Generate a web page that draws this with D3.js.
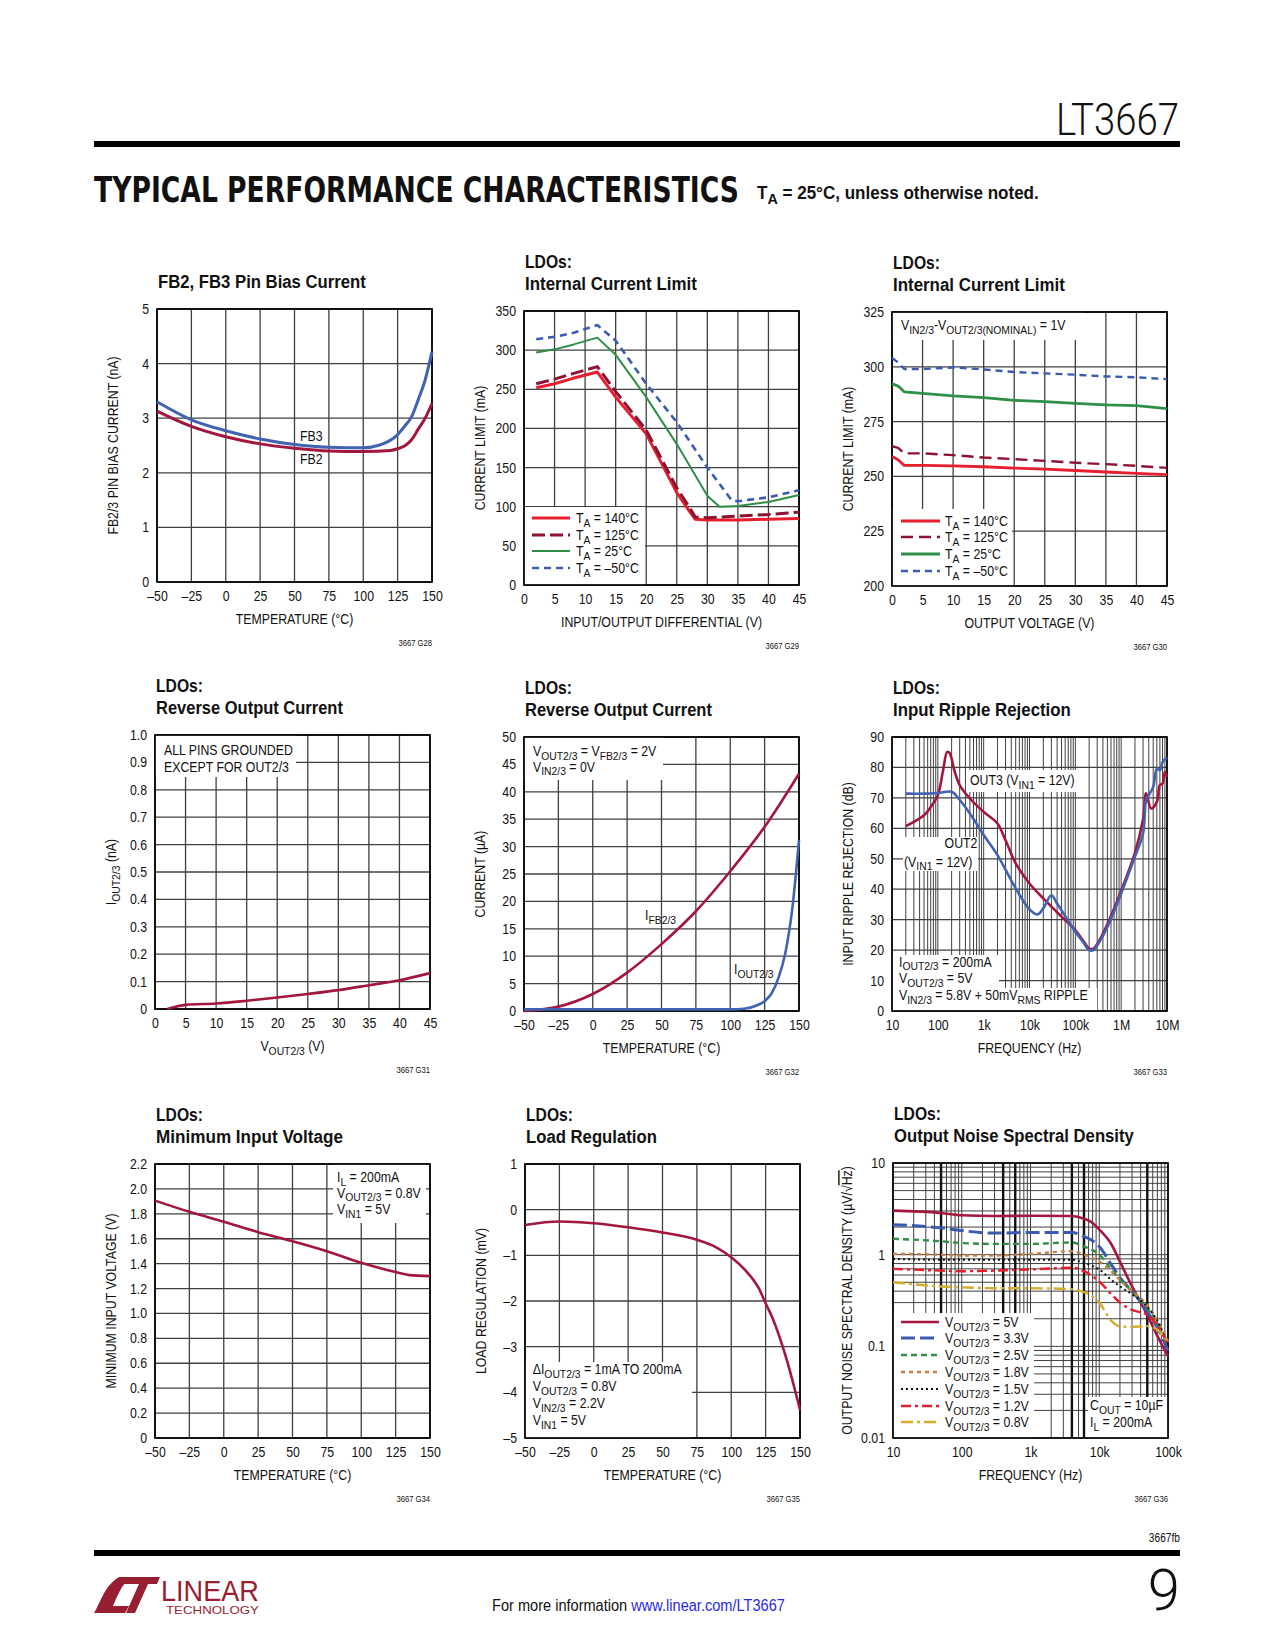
<!DOCTYPE html>
<html><head><meta charset="utf-8">
<script src="https://cdn.jsdelivr.net/npm/d3@7"></script>
<style>body{margin:0;background:#fff}svg{display:block}</style>
</head><body>
<svg id="page" width="1275" height="1650"></svg>
<script>
// ---------------- DATA ----------------
// tick label arrays
const tempTicks = [-50,-25,0,25,50,75,100,125,150];
const voltTicks = [0,5,10,15,20,25,30,35,40,45];
const biasTicks = [0,1,2,3,4,5];
const climTicks = [0,50,100,150,200,250,300,350];
const clim2Ticks = [200,225,250,275,300,325];
const revTicks = [0,0.1,0.2,0.3,0.4,0.5,0.6,0.7,0.8,0.9,1.0];
const revUaTicks = [0,5,10,15,20,25,30,35,40,45,50];
const prrFreqTicks = [10,100,1e3,1e4,1e5,1e6,1e7];
const prrFreqLabels = ["10","100","1k","10k","100k","1M","10M"];
const prrTicks = [0,10,20,30,40,50,60,70,80,90];
const vminTicks = [0,0.2,0.4,0.6,0.8,1.0,1.2,1.4,1.6,1.8,2.0,2.2];
const loadTicks = [-5,-4,-3,-2,-1,0,1];
const noiseFreqTicks = [10,100,1e3,1e4,1e5];
const noiseFreqLabels = ["10","100","1k","10k","100k"];
const noiseTicks = [0.01,0.1,1,10];
const noiseTickLabels = ["0.01","0.1","1","10"];

// G28: FB2/FB3 pin bias current (nA) vs temperature
const fb3Temp = [-50,-25,0,25,50,75,100,112,125,130,135,140,145,150];
const fb3Bias = [3.30,2.97,2.77,2.62,2.52,2.47,2.46,2.51,2.70,2.85,3.02,3.34,3.70,4.22];
const fb2Temp = [-50,-25,0,25,50,75,100,120,125,130,135,140,145,150];
const fb2Bias = [3.13,2.85,2.66,2.53,2.45,2.40,2.39,2.41,2.44,2.49,2.60,2.80,3.00,3.27];

// G29: current limit (mA) vs input/output differential (V)
const diffA = [2,5,8,12,15,20,25,27,28,30,35,40,45];
const lim140 = [252,257,264,272,240,193,118,95,84,83,83,84,85];
const lim125 = [257,263,270,279,247,198,124,100,87,86,88,90,93];
const diffB = [2,5,8,12,15,20,25,30,32,35,40,45];
const lim25 = [297,301,307,316,294,240,180,114,100,101,106,115];
const diffC = [2,5,8,12,15,20,25,30,34,35,40,45];
const limM50 = [314,317,322,332,312,257,208,150,108,107,112,121];

// G30: current limit (mA) vs output voltage (V)
const vout = [0,1,2,5,10,15,20,25,30,35,40,45];
const lim2M50 = [304,302,299,299,299.7,298.8,297.6,297,296.4,295.6,295.2,294.4];
const lim225 = [292.3,291.2,288.6,287.9,286.7,285.9,284.7,284.1,283.3,282.6,282.3,280.9];
const lim2125 = [263.8,263,260.5,260.5,259.7,258.6,257.9,257.1,256.2,255.6,254.8,253.9];
const lim2140 = [259.1,257.6,255,255,254.8,254.4,253.8,253.3,252.7,252,251.4,250.8];

// G31: reverse output current (nA) vs VOUT
const revV = [2,3,5,10,15,20,25,30,35,40,45];
const revI = [0,0.006,0.015,0.02,0.03,0.042,0.055,0.069,0.087,0.105,0.131];

// G32: reverse current (uA) vs temperature
const ifbTemp = [-50,-40,-25,0,25,50,75,100,125,150];
const ifbCur = [0,0.2,0.8,3.1,7.0,12.2,18.2,25.5,33.6,43.3];
const ioutTemp = [-50,0,50,100,110,120,125,130,135,140,143,145,148,150];
const ioutCur = [0.3,0.3,0.3,0.3,0.4,1.1,1.8,3.2,6.0,10.5,14.8,18.4,25.7,31.2];

// G33: input ripple rejection (dB) vs frequency
const out3Freq = [20,50,70,100,130,160,180,230,300,500,1e3,2e3,3e3,5e3,1e4,2e4,5e4,1e5,1.5e5,2e5,2.5e5,3e5,5e5,1e6,2e6,3e6,3.5e6,4.5e6,6e6,7e6,8e6,9e6,1e7];
const out3Rej = [60.7,64.3,67,70.9,79,85.1,84.8,79,74.2,69.8,65.4,61.6,56.1,48.5,41.9,37,31,26.6,23,20.5,20.5,22,28.5,39.5,52,63,71.5,66.5,68.7,74.2,74.7,78.6,76.9];
const out2Freq = [20,50,100,200,300,500,1e3,2e3,5e3,1e4,1.5e4,2e4,3e4,4e4,7e4,1e5,1.5e5,2e5,2.5e5,3e5,5e5,1e6,2e6,3e6,3.5e6,4e6,5e6,6e6,7e6,8e6,1e7];
const out2Rej = [71.4,71.4,71.6,72,69.3,64.9,57.8,51.2,40.3,33.4,31.7,33.7,38,35.3,29.6,26,22.5,20,20,21.5,27.5,38.6,50.7,58.3,69.3,70.9,73.6,79.6,79.1,81.8,83.3];

// G34: minimum input voltage (V) vs temperature
const vminTemp = [-50,-25,0,25,50,75,100,125,135,150];
const vminVal = [1.906,1.816,1.736,1.653,1.58,1.50,1.407,1.332,1.308,1.30];

// G35: load regulation (mV) vs temperature
const loadTemp = [-50,-25,0,25,50,75,90,100,110,120,125,130,140,150];
const loadReg = [-0.334,-0.26,-0.297,-0.385,-0.5,-0.66,-0.84,-1.04,-1.32,-1.72,-2.05,-2.37,-3.25,-4.38];

// G36: output noise spectral density (uV/rtHz) vs frequency
const noiseFreq = [10,50,100,300,1000,4000,6000,8000,10000,15000,20000,30000,50000,70000,100000];
const noise5V0 = [3.02,2.85,2.69,2.64,2.66,2.64,2.47,2.22,1.88,1.30,0.84,0.45,0.22,0.13,0.078];
const noise3V3 = [2.12,1.96,1.83,1.72,1.75,1.75,1.58,1.42,1.23,0.78,0.56,0.40,0.24,0.16,0.09];
const noise2V5 = [1.49,1.40,1.34,1.31,1.31,1.36,1.23,1.12,1.0,0.69,0.53,0.40,0.26,0.18,0.11];
const noise1V8 = [1.02,1.0,0.98,0.98,1.02,1.09,1.0,0.92,0.84,0.66,0.53,0.40,0.28,0.19,0.114];
const noise1V5 = [0.90,0.88,0.88,0.88,0.88,0.88,0.81,0.75,0.69,0.53,0.45,0.37,0.27,0.19,0.104];
const noise1V2 = [0.70,0.67,0.66,0.67,0.69,0.72,0.66,0.58,0.51,0.37,0.30,0.25,0.22,0.17,0.104];
const noise0V8 = [0.50,0.45,0.44,0.43,0.43,0.42,0.39,0.35,0.30,0.19,0.165,0.163,0.166,0.152,0.11];
const noiseBoldGrid = [50,400,600,4000,6000,50000];

// ---------------- DRAWING ----------------
const NARROW = "'Liberation Sans',Arial,Helvetica,sans-serif";
const W = 275;
const MAROON = "#a3173e", BLUE = "#4262b2", RED = "#e61e2d", GREEN = "#2f8f46",
      ORANGE = "#c8803c", GOLD = "#d2ad2f", GRID = "#404040";
const svg = d3.select("#page").attr("font-family", NARROW);

function rich(sel, str, fs) {
  const parts = str.split(/(_\{[^}]*\}|~\{[^}]*\})/);
  let shifted = false;
  parts.forEach(p => {
    if (!p) return;
    let t;
    if (p.startsWith("_{")) {
      sel.append("tspan").attr("dy", shifted ? 0 : fs * 0.28).attr("font-size", fs * 0.84).text(p.slice(2, -1));
      shifted = true; return;
    }
    if (p.startsWith("~{")) {
      t = sel.append("tspan").attr("text-decoration", "overline").text(p.slice(2, -1));
    } else {
      t = sel.append("tspan").text(p);
    }
    if (shifted) { t.attr("dy", -fs * 0.28); shifted = false; }
  });
  return sel;
}
// text placed with a transform; horizontal scale mimics a condensed face
function txt(g, x, y, str, fs, opts = {}) {
  const t = g.append("text").attr("font-size", fs)
    .attr("fill", opts.fill || "#111").attr("font-family", opts.family || NARROW);
  if (opts.anchor) t.attr("text-anchor", opts.anchor);
  if (opts.weight) t.attr("font-weight", opts.weight);
  rich(t, str, fs);
  let f = 1;
  if (opts.len) f = opts.len / t.node().getComputedTextLength();
  else if (opts.cond) f = opts.cond;
  t.attr("transform", `translate(${x},${y})${opts.rot ? ` rotate(${opts.rot})` : ""} scale(${f.toFixed(4)},1)`);
  return t;
}
const fmtTemp = d => d < 0 ? "\u2013" + (-d) : String(d);
const NOTE = 0.88, AXT = 0.88, TICK = 0.88;

function drawChart(c) {
  const H = c.h || 274;
  const g = svg.append("g").attr("transform", `translate(${c.left},${c.top})`);
  const x = (c.xlog ? d3.scaleLog() : d3.scaleLinear()).domain(c.xdom).range([0, W]);
  const y = (c.ylog ? d3.scaleLog() : d3.scaleLinear()).domain(c.ydom).range([H, 0]);
  // grid
  g.selectAll(null).data(c.xgrid).join("line")
    .attr("x1", d => x(d)).attr("x2", d => x(d)).attr("y1", 0).attr("y2", H)
    .attr("stroke", GRID).attr("stroke-width", c.xgw || 1.3);
  g.selectAll(null).data(c.ygrid).join("line")
    .attr("y1", d => y(d)).attr("y2", d => y(d)).attr("x1", 0).attr("x2", W)
    .attr("stroke", GRID).attr("stroke-width", c.ygw || 1.3);
  (c.boldX || []).forEach(v => g.append("line").attr("x1", x(v)).attr("x2", x(v)).attr("y1", 0).attr("y2", H)
    .attr("stroke", "#111").attr("stroke-width", 2.4));
  // masks
  (c.masks || []).forEach(m => g.append("rect").attr("x", m[0]).attr("y", m[1]).attr("width", m[2]).attr("height", m[3]).attr("fill", "#fff"));
  // frame
  g.append("rect").attr("width", W).attr("height", H).attr("fill", "none").attr("stroke", "#000").attr("stroke-width", 1.7);
  // axes (labels only)
  const ax = g.append("g").attr("transform", `translate(0,${H})`)
    .call(d3.axisBottom(x).tickValues(c.xticks).tickFormat(c.xfmt || fmtTemp).tickSize(0).tickPadding(9));
  ax.select(".domain").remove();
  ax.selectAll("text").attr("font-size", 14).attr("font-family", NARROW).attr("fill", "#111")
    .attr("transform", `scale(${TICK},1)`);
  const ay = g.append("g").call(d3.axisLeft(y).tickValues(c.yticks).tickFormat(c.yfmt || fmtTemp).tickSize(0).tickPadding(8));
  ay.select(".domain").remove();
  ay.selectAll("text").attr("font-size", 14).attr("font-family", NARROW).attr("fill", "#111")
    .attr("x", -8 / TICK).attr("transform", `scale(${TICK},1)`);
  // series
  c.series.forEach(s => {
    const line = d3.line().x(d => x(d[0])).y(d => y(d[1])).curve(s.curve || d3.curveMonotoneX);
    const p = g.append("path").datum(d3.zip(s.x, s.y)).attr("d", line).attr("fill", "none")
      .attr("stroke", s.color).attr("stroke-width", s.width || 2.6).attr("stroke-linejoin", "round");
    if (s.dash) p.attr("stroke-dasharray", s.dash);
  });
  // legend
  if (c.legend) {
    const L = c.legend;
    c.series.forEach((s, i) => {
      const by = L.y[i];
      const l = g.append("line").attr("x1", L.x0).attr("x2", L.x1).attr("y1", by - 5).attr("y2", by - 5)
        .attr("stroke", s.color).attr("stroke-width", s.width || 2.6);
      if (s.dash) l.attr("stroke-dasharray", s.dash);
      txt(g, L.tx, by, s.label, 14, { cond: NOTE });
    });
  }
  // annotations
  (c.notes || []).forEach(n => txt(g, n[0], n[1], n[2], 14, { anchor: n[3], cond: NOTE }));
  // titles
  if (c.title2) {
    txt(g, 1, -43, c.title1, 19, { weight: "bold", len: 47 });
    txt(g, 1, -21, c.title2, 19, { weight: "bold", len: c.tlen });
  } else {
    txt(g, 1, -21, c.title1, 19, { weight: "bold", len: c.tlen });
  }
  txt(g, W / 2, H + 42, c.xtitle, 14, { anchor: "middle", cond: AXT });
  txt(g, c.ytx || -39, H / 2, c.ytitle, 14, { anchor: "middle", rot: -90, cond: AXT });
  txt(g, W, H + 64, c.code, 9, { anchor: "end", cond: 0.85 });
}

// ------- chart definitions -------
drawChart({
  left: 157, top: 309, h: 273, title1: "FB2, FB3 Pin Bias Current", tlen: 208,
  xdom: [-50, 150], ydom: [0, 5], xgrid: tempTicks, ygrid: biasTicks, xticks: tempTicks, yticks: biasTicks,
  xtitle: "TEMPERATURE (\u00B0C)", ytitle: "FB2/3 PIN BIAS CURRENT (nA)", code: "3667 G28",
  series: [
    { x: fb3Temp, y: fb3Bias, color: BLUE, width: 3 },
    { x: fb2Temp, y: fb2Bias, color: MAROON, width: 3 }
  ],
  notes: [[143, 132, "FB3"], [143, 155, "FB2"]]
});

drawChart({
  left: 524, top: 311, title1: "LDOs:", title2: "Internal Current Limit", tlen: 172,
  xdom: [0, 45], ydom: [0, 350], xgrid: voltTicks, ygrid: climTicks, xticks: voltTicks, yticks: climTicks, yfmt: d => d,
  xtitle: "INPUT/OUTPUT DIFFERENTIAL (V)", ytitle: "CURRENT LIMIT (mA)", code: "3667 G29",
  masks: [[0, 196, 121, 78]],
  series: [
    { x: diffA, y: lim140, color: RED, width: 3, curve: d3.curveLinear, label: "T_{A} = 140\u00B0C" },
    { x: diffA, y: lim125, color: "#8e1232", width: 3, dash: "13,5", curve: d3.curveLinear, label: "T_{A} = 125\u00B0C" },
    { x: diffB, y: lim25, color: GREEN, width: 2, curve: d3.curveLinear, label: "T_{A} = 25\u00B0C" },
    { x: diffC, y: limM50, color: "#3a5bb0", width: 2.6, dash: "7,5", curve: d3.curveLinear, label: "T_{A} = \u201350\u00B0C" }
  ],
  legend: { x0: 8, x1: 46, tx: 52, y: [212, 229, 245, 262] }
});

drawChart({
  left: 892, top: 312, title1: "LDOs:", title2: "Internal Current Limit", tlen: 172,
  xdom: [0, 45], ydom: [200, 325], xgrid: voltTicks, ygrid: clim2Ticks, xticks: voltTicks, yticks: clim2Ticks, yfmt: d => d,
  xtitle: "OUTPUT VOLTAGE (V)", ytitle: "CURRENT LIMIT (mA)", code: "3667 G30",
  masks: [[0, 0, 191, 28], [0, 197, 120, 78]],
  series: [
    { x: vout, y: lim2140, color: RED, width: 2.8, curve: d3.curveLinear, label: "T_{A} = 140\u00B0C" },
    { x: vout, y: lim2125, color: "#8e1232", width: 2.4, dash: "12,6", curve: d3.curveLinear, label: "T_{A} = 125\u00B0C" },
    { x: vout, y: lim225, color: GREEN, width: 2.8, curve: d3.curveLinear, label: "T_{A} = 25\u00B0C" },
    { x: vout, y: lim2M50, color: "#3a5bb0", width: 2.4, dash: "7,5", curve: d3.curveLinear, label: "T_{A} = \u201350\u00B0C" }
  ],
  legend: { x0: 9, x1: 48, tx: 53, y: [214, 230, 247, 264] },
  notes: [[9, 18, "V_{IN2/3}-V_{OUT2/3(NOMINAL)} = 1V"]]
});

drawChart({
  left: 155, top: 735, title1: "LDOs:", title2: "Reverse Output Current", tlen: 187,
  xdom: [0, 45], ydom: [0, 1], xgrid: voltTicks, ygrid: revTicks, xticks: voltTicks, yticks: revTicks,
  yfmt: d => d === 0 ? "0" : d.toFixed(1),
  xtitle: "V_{OUT2/3} (V)", ytitle: "I_{OUT2/3} (nA)", code: "3667 G31",
  masks: [[0, 0, 141, 42]],
  series: [{ x: revV, y: revI, color: MAROON, width: 2.6 }],
  notes: [[9, 20, "ALL PINS GROUNDED"], [9, 36.5, "EXCEPT FOR OUT2/3"]]
});

drawChart({
  left: 524, top: 737, title1: "LDOs:", title2: "Reverse Output Current", tlen: 187,
  xdom: [-50, 150], ydom: [0, 50], xgrid: tempTicks, ygrid: revUaTicks, xticks: tempTicks, yticks: revUaTicks, yfmt: d => d,
  xtitle: "TEMPERATURE (\u00B0C)", ytitle: "CURRENT (\u00B5A)", code: "3667 G32",
  masks: [[0, 0, 139, 43]],
  series: [
    { x: ifbTemp, y: ifbCur, color: MAROON, width: 2.6 },
    { x: ioutTemp, y: ioutCur, color: BLUE, width: 2.6 }
  ],
  notes: [[9, 19, "V_{OUT2/3} = V_{FB2/3} = 2V"], [9, 34.5, "V_{IN2/3} = 0V"], [121, 183, "I_{FB2/3}"], [210, 237, "I_{OUT2/3}"]]
});

const prrGrid = d3.range(1, 7).flatMap(e => d3.range(1, 10).map(m => m * 10 ** e)).concat([1e7]);
drawChart({
  left: 892, top: 737, title1: "LDOs:", title2: "Input Ripple Rejection", tlen: 178,
  xlog: true, xdom: [10, 1e7], ydom: [0, 90], xgrid: prrGrid, xgw: 1, ygrid: prrTicks, xticks: prrFreqTicks,
  xfmt: (d, i) => prrFreqLabels[i], yticks: prrTicks, yfmt: d => d,
  xtitle: "FREQUENCY (Hz)", ytitle: "INPUT RIPPLE REJECTION (dB)", code: "3667 G33",
  masks: [[74, 33, 114, 22], [11, 100, 75, 34], [0, 218, 107, 35], [0, 251, 205, 23]],
  series: [
    { x: out3Freq, y: out3Rej, color: MAROON, width: 2.6, curve: d3.curveCatmullRom },
    { x: out2Freq, y: out2Rej, color: BLUE, width: 2.6, curve: d3.curveCatmullRom }
  ],
  notes: [[78, 48, "OUT3 (V_{IN1} = 12V)"], [69, 111, "OUT2", "middle"], [12, 129.5, "(V_{IN1} = 12V)"],
          [7, 229.5, "I_{OUT2/3} = 200mA"], [7, 246, "V_{OUT2/3} = 5V"], [7, 263, "V_{IN2/3} = 5.8V + 50mV_{RMS} RIPPLE"]]
});

drawChart({
  left: 155, top: 1164, title1: "LDOs:", title2: "Minimum Input Voltage", tlen: 187,
  xdom: [-50, 150], ydom: [0, 2.2], xgrid: tempTicks, ygrid: vminTicks, xticks: tempTicks, yticks: vminTicks,
  yfmt: d => d === 0 ? "0" : d.toFixed(1),
  xtitle: "TEMPERATURE (\u00B0C)", ytitle: "MINIMUM INPUT VOLTAGE (V)", code: "3667 G34",
  masks: [[178, 0, 93, 59]],
  series: [{ x: vminTemp, y: vminVal, color: MAROON, width: 2.6 }],
  notes: [[182, 18, "I_{L} = 200mA"], [182, 33.5, "V_{OUT2/3} = 0.8V"], [182, 50, "V_{IN1} = 5V"]]
});

drawChart({
  left: 525, top: 1164, title1: "LDOs:", title2: "Load Regulation", tlen: 131,
  xdom: [-50, 150], ydom: [-5, 1], xgrid: tempTicks, ygrid: loadTicks, xticks: tempTicks, yticks: loadTicks,
  xtitle: "TEMPERATURE (\u00B0C)", ytitle: "LOAD REGULATION (mV)", code: "3667 G35",
  masks: [[0, 198, 167, 76]],
  series: [{ x: loadTemp, y: loadReg, color: MAROON, width: 2.6 }],
  notes: [[7.7, 210, "\u0394I_{OUT2/3} = 1mA TO 200mA"], [7.7, 227, "V_{OUT2/3} = 0.8V"], [7.7, 244, "V_{IN2/3} = 2.2V"], [7.7, 261, "V_{IN1} = 5V"]]
});

const nxGrid = d3.range(1, 5).flatMap(e => d3.range(1, 10).map(m => m * 10 ** e)).concat([1e5]);
const nyGrid = d3.range(-2, 1).flatMap(e => d3.range(1, 10).map(m => m * 10 ** e)).concat([10]);
drawChart({
  left: 893, top: 1163, h: 275, title1: "LDOs:", title2: "Output Noise Spectral Density", tlen: 240,
  xlog: true, ylog: true, xdom: [10, 1e5], ydom: [0.01, 10], xgrid: nxGrid, ygrid: nyGrid, xgw: 1, ygw: 1,
  boldX: noiseBoldGrid,
  xticks: noiseFreqTicks, xfmt: (d, i) => noiseFreqLabels[i], yticks: noiseTicks, yfmt: (d, i) => noiseTickLabels[i],
  xtitle: "FREQUENCY (Hz)", ytitle: "OUTPUT NOISE SPECTRAL DENSITY (\u00B5V/\u221A~{Hz})", ytx: -41, code: "3667 G36",
  masks: [[0, 150, 141, 125], [195, 234, 80, 41]],
  series: [
    { x: noiseFreq, y: noise5V0, color: MAROON, width: 2.6, label: "V_{OUT2/3} = 5V" },
    { x: noiseFreq, y: noise3V3, color: "#3a5bb0", width: 3, dash: "14,5", label: "V_{OUT2/3} = 3.3V" },
    { x: noiseFreq, y: noise2V5, color: GREEN, width: 2.4, dash: "6,4", label: "V_{OUT2/3} = 2.5V" },
    { x: noiseFreq, y: noise1V8, color: ORANGE, width: 2.4, dash: "4,4", label: "V_{OUT2/3} = 1.8V" },
    { x: noiseFreq, y: noise1V5, color: "#111", width: 2, dash: "2,3", label: "V_{OUT2/3} = 1.5V" },
    { x: noiseFreq, y: noise1V2, color: RED, width: 2.4, dash: "10,4,3,4", label: "V_{OUT2/3} = 1.2V" },
    { x: noiseFreq, y: noise0V8, color: GOLD, width: 2.4, dash: "12,4,3,4", label: "V_{OUT2/3} = 0.8V" }
  ],
  legend: { x0: 8, x1: 46, tx: 52, y: [164, 180, 197, 214, 231, 248, 264] },
  notes: [[197, 247, "C_{OUT} = 10\u00B5F"], [197, 264, "I_{L} = 200mA"]]
});

// ------- page header / footer -------
txt(svg, 1179, 135, "LT3667", 44, { anchor: "end", family: "Roboto,'Liberation Sans',sans-serif", weight: 300, len: 123 });
svg.append("rect").attr("x", 94).attr("y", 141).attr("width", 1086).attr("height", 6).attr("fill", "#000");
txt(svg, 94, 202, "TYPICAL PERFORMANCE CHARACTERISTICS", 36, { family: "'DejaVu Sans Condensed','DejaVu Sans',sans-serif", weight: "bold", len: 645 });
txt(svg, 757, 199, "T_{A} = 25\u00B0C, unless otherwise noted.", 18, { weight: "bold", len: 282 });

txt(svg, 1180, 1542, "3667fb", 12, { anchor: "end", cond: 0.85 });
svg.append("rect").attr("x", 94).attr("y", 1550).attr("width", 1086).attr("height", 6).attr("fill", "#000");
txt(svg, 1180, 1610, "9", 58, { anchor: "end", family: "Roboto,'Liberation Sans',sans-serif", weight: 300 });
const foot = svg.append("text").attr("font-size", 16).attr("font-family", NARROW);
foot.append("tspan").attr("fill", "#111").text("For more information ");
foot.append("tspan").attr("fill", "#2a2ae6").text("www.linear.com/LT3667");
foot.attr("transform", `translate(492,1611) scale(${(293 / foot.node().getComputedTextLength()).toFixed(4)},1)`);

// logo
const LOGO = "#981e32";
svg.append("path").attr("fill", LOGO)
  .attr("d", "M94,1613 C101,1602 104,1586 119,1577 L131,1577 C121,1585 117,1597 113,1606 L129,1606 L125,1613 Z");
svg.append("path").attr("fill", LOGO)
  .attr("d", "M126,1577 L160,1577 L157,1584 L148,1584 L135,1613 L126,1613 L139,1584 L123,1584 Z");
txt(svg, 161, 1601, "LINEAR", 29, { fill: LOGO, len: 98 });
txt(svg, 166, 1614, "TECHNOLOGY", 10, { fill: LOGO, len: 93 });
</script>
</body></html>
